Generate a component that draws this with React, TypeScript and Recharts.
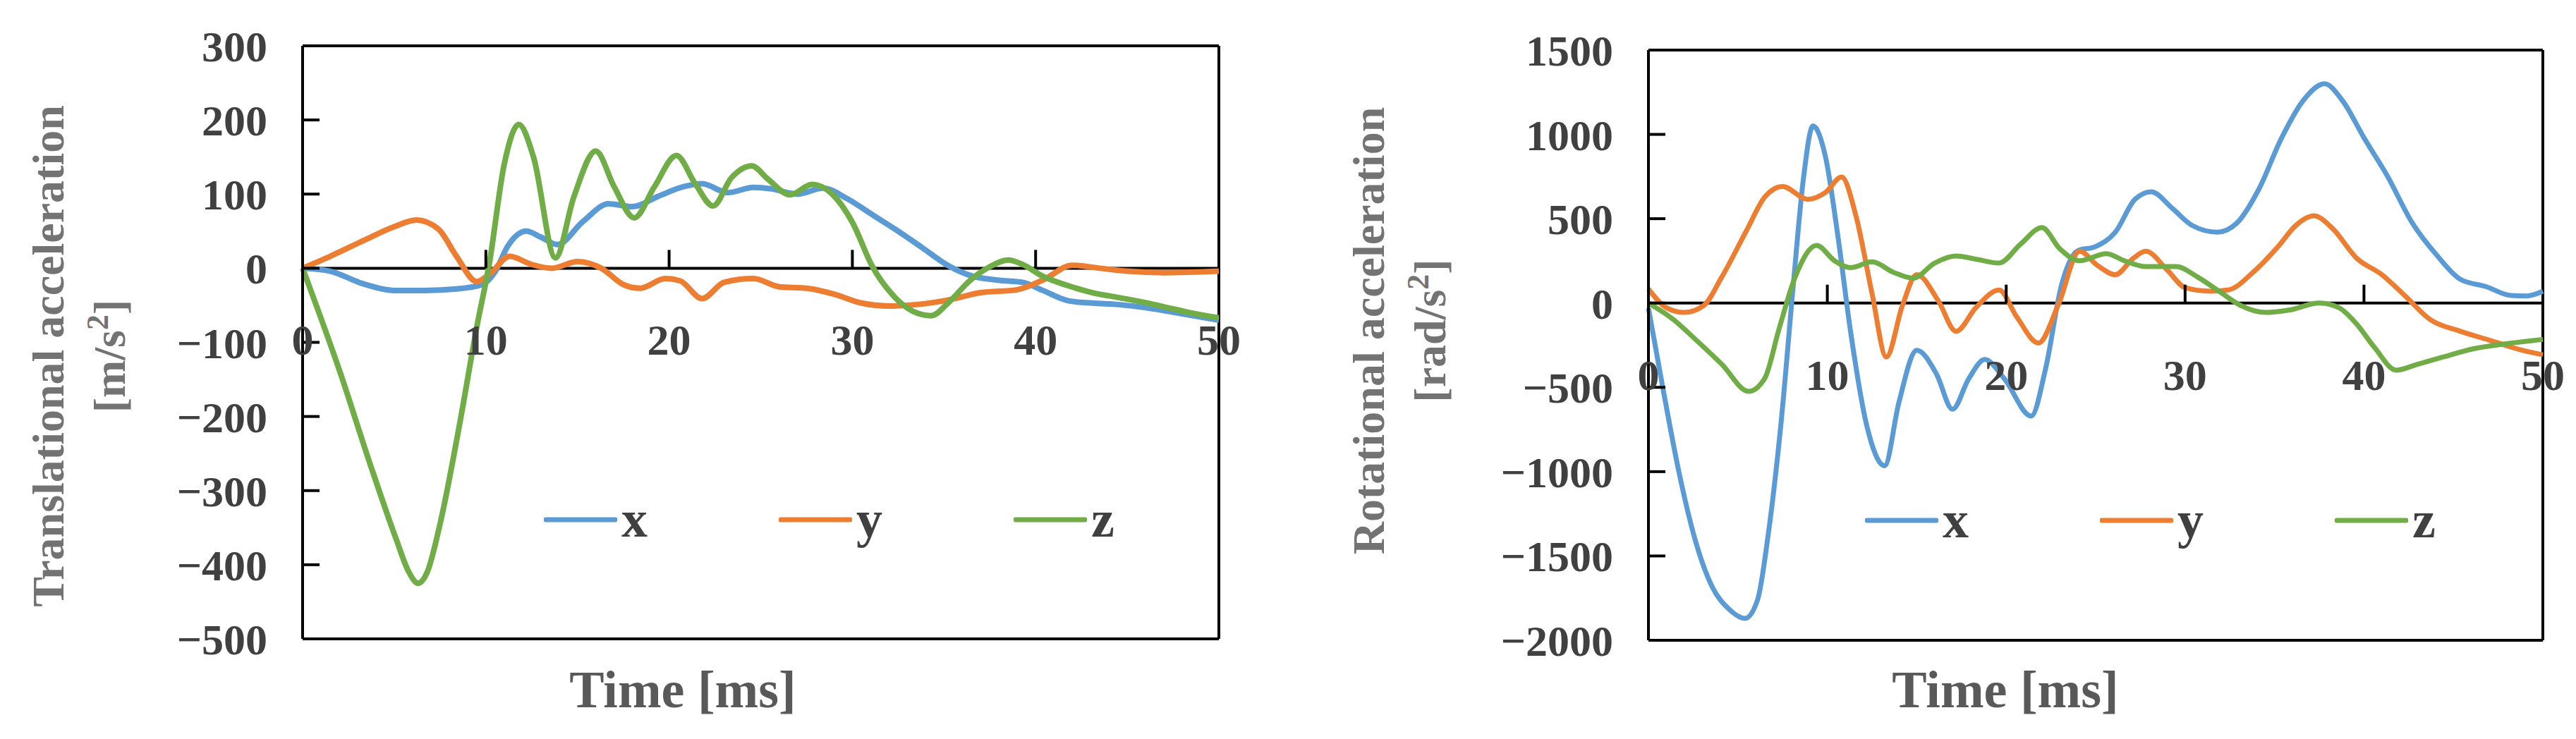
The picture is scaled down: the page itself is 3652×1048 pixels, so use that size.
import { Legend, Line, LineChart, ReferenceLine, XAxis, YAxis } from "recharts";

// time [ms] vs value
const transX: [number, number][] = [
  [0, 0], [1.5, -4], [3.3, -21], [5, -30], [6.7, -30], [8.4, -28], [9.8, -22], [10.5, -5],
  [11.2, 30], [12.2, 50], [13, 42], [13.9, 32], [15.3, 63], [16.7, 87], [18, 83], [19.4, 97],
  [20.8, 110], [21.8, 114], [23.2, 102], [24.6, 109], [25.6, 107], [27, 100], [28.4, 108],
  [29.7, 94], [31.1, 72], [32.5, 50], [33.8, 28], [35.2, 4], [36.6, -11], [37.9, -16],
  [39.3, -19], [40.4, -30], [41.8, -44], [43.1, -47], [44.5, -49], [46.2, -54], [47.9, -61], [50, -70],
];
const transY: [number, number][] = [
  [0, 0], [1.5, 16], [3.3, 37], [5, 56], [6.2, 65], [7.4, 53], [8.4, 16], [9.5, -18], [10.2, -8],
  [11.3, 16], [12.5, 5], [13.6, 0], [15, 9], [16.3, 0], [17.5, -22], [18.4, -27], [19.8, -14],
  [20.6, -17], [21.8, -41], [23, -19], [24.6, -14], [26, -25], [27.5, -27], [29, -35], [30.5, -47],
  [32, -51], [33.5, -49], [35.2, -43], [37, -33], [39, -29], [40.4, -16], [42, 4], [43.5, 0],
  [45, -4], [47, -6], [50, -4],
];
const transZ: [number, number][] = [
  [0, 0], [2, -137], [3.75, -269], [5.1, -365], [5.8, -410], [6.3, -425], [6.8, -410], [7.5, -345],
  [8.6, -206], [9.5, -80], [10.2, 8], [11, 140], [11.8, 194], [12.6, 150], [13.8, 14], [14.8, 96],
  [16, 158], [17, 110], [18.1, 68], [19.2, 110], [20.4, 152], [21.4, 115], [22.4, 84], [23.4, 122],
  [24.5, 138], [25.4, 120], [26.6, 99], [27.8, 113], [28.9, 100], [30, 62], [31.1, 2], [32.2, -36],
  [33.3, -58], [34.3, -64], [35.3, -45], [36.4, -17], [37.5, 2], [38.5, 11], [39.3, 5], [40.4, -11],
  [41.7, -23], [43.1, -33], [44.4, -39], [45.7, -45], [47, -52], [48.6, -61], [50, -67],
];

const rotX: [number, number][] = [
  [0, -30], [0.8, -500], [1.7, -1000], [2.6, -1400], [3.55, -1680], [4.5, -1815], [5.4, -1870],
  [6.1, -1760], [6.7, -1370], [7.4, -725], [8.1, 110], [8.65, 725], [9.2, 1050], [9.9, 865],
  [10.6, 390], [11.3, -170], [12.2, -725], [13.2, -965], [14, -590], [15, -280], [16.1, -420],
  [17, -630], [17.9, -450], [18.8, -335], [19.9, -450], [21.4, -670], [22.2, -390], [23.1, 110],
  [24, 310], [25, 335], [26.1, 420], [27.2, 615], [28.1, 660], [29.3, 560], [30.4, 460],
  [31.8, 420], [32.9, 475], [34.1, 670], [35.4, 980], [36.6, 1200], [37.8, 1300], [38.8, 1200],
  [40, 980], [41.3, 755], [42.7, 475], [44.1, 280], [45.4, 140], [46.8, 98], [48.2, 45],
  [49.1, 42], [50, 70],
];
const rotY: [number, number][] = [
  [0, 84], [1, -28], [2, -56], [3.1, -14], [4.1, 154], [5.5, 433], [6.5, 628], [7.5, 691],
  [8.9, 615], [9.9, 656], [10.8, 747], [11.6, 517], [12.5, 56], [13.3, -320], [14.2, -14],
  [15, 168], [16.2, 14], [17.2, -168], [18.3, -28], [19.6, 77], [20.6, -84], [21.8, -237],
  [22.9, -14], [24.1, 307], [25.1, 223], [26.1, 168], [27.1, 265], [27.8, 307], [29, 196],
  [30, 91], [31.4, 70], [32.4, 77], [33.8, 182], [35.2, 335], [36.2, 461], [37.2, 517],
  [38.2, 447], [39.6, 265], [41, 168], [42.3, 42], [43.7, -98], [45.4, -168], [47.1, -223],
  [48.8, -279], [50, -307],
];
const rotZ: [number, number][] = [
  [0, 0], [1.4, -98], [2.7, -223], [4.1, -363], [5.6, -524], [6.5, -447], [7.3, -154], [8.2, 154],
  [9.4, 342], [10.4, 251], [11.3, 210], [12.5, 244], [13.7, 182], [14.8, 147], [16, 237],
  [17.2, 279], [18.4, 258], [19.6, 237], [20.8, 349], [22, 447], [23, 321], [24.1, 251],
  [25.6, 293], [26.6, 251], [27.8, 216], [29.5, 216], [30.7, 154], [31.9, 70], [33.1, -14],
  [34.5, -56], [35.8, -42], [37.5, 0], [38.6, -28], [39.6, -126], [40.6, -265], [41.8, -398],
  [43, -363], [44.4, -321], [46.1, -272], [47.8, -244], [50, -216],
];

const timeTicks = [0, 10, 20, 30, 40, 50];
const transTicks = [-500, -400, -300, -200, -100, 0, 100, 200, 300];
const rotTicks = [-2000, -1500, -1000, -500, 0, 500, 1000, 1500];
const seriesNames = ["x", "y", "z"];
const colors = ["#5B9BD5", "#ED7D31", "#70AD47"];

const FONT = "'Liberation Serif', 'DejaVu Serif', serif";
const toRows = (pts: [number, number][]) => pts.map(([t, v]) => ({ t, v }));
const fmt = (v: number) => (v < 0 ? `\u2212${-v}` : `${v}`);

function ZeroTick(props: any) {
  const { x, y, payload, zeroOffset } = props;
  const zy = y - zeroOffset;
  const v = payload.value;
  const edge = v === timeTicks[0] || v === timeTicks[timeTicks.length - 1];
  return (
    <g>
      {!edge && <line x1={x} x2={x} y1={zy} y2={zy - 26} stroke="#000" strokeWidth={4} />}
      <text x={x} y={zy + 123} textAnchor="middle" fill="#404040" fontSize={62} fontWeight={700} fontFamily={FONT}>
        {v}
      </text>
    </g>
  );
}

function LegendRow(props: any) {
  const items = props.payload || [];
  return (
    <div style={{ display: "flex" }}>
      {items.map((it: any) => (
        <div key={it.value} style={{ width: 333, display: "flex", alignItems: "center" }}>
          <svg width={104} height={10}>
            <line x1={3} x2={101} y1={5} y2={5} stroke={it.color} strokeWidth={7} strokeLinecap="round" />
          </svg>
          <span style={{ marginLeft: 6, fontFamily: FONT, fontWeight: 700, fontSize: 74, color: "#404040", lineHeight: "85px" }}>
            {it.value}
          </span>
        </div>
      ))}
    </div>
  );
}

type PanelProps = {
  left: number;
  width: number;
  margin: { top: number; right: number; bottom: number; left: number };
  yTicks: number[];
  series: [number, number][][];
  strokeWidth: number;
  legendPos: { left: number; top: number };
};

function Panel({ left, width, margin, yTicks, series, strokeWidth, legendPos }: PanelProps) {
  const height = 1048;
  const xAxisH = 60;
  const yAxisW = 200;
  const yMin = yTicks[0];
  const yMax = yTicks[yTicks.length - 1];
  const plotH = height - margin.top - margin.bottom;
  const zeroOffset = (plotH * (0 - yMin)) / (yMax - yMin);
  return (
    <div style={{ position: "absolute", left, top: 0 }}>
      <LineChart
        width={width}
        height={height}
        margin={{ top: margin.top, right: margin.right, bottom: margin.bottom - xAxisH, left: margin.left - yAxisW }}
      >
        <XAxis
          dataKey="t"
          type="number"
          domain={[timeTicks[0], timeTicks[timeTicks.length - 1]]}
          ticks={timeTicks}
          interval={0}
          height={xAxisH}
          tickSize={0}
          tickMargin={0}
          tickLine={false}
          axisLine={{ stroke: "#000", strokeWidth: 4 }}
          tick={(p: any) => <ZeroTick {...p} zeroOffset={zeroOffset} />}
          allowDuplicatedCategory={false}
        />
        <YAxis
          type="number"
          domain={[yMin, yMax]}
          ticks={yTicks}
          interval={0}
          width={yAxisW}
          tickSize={-24}
          tickMargin={74}
          tickFormatter={fmt}
          tickLine={{ stroke: "#000", strokeWidth: 4 }}
          axisLine={{ stroke: "#000", strokeWidth: 4 }}
          tick={{ fill: "#404040", fontSize: 62, fontWeight: 700, fontFamily: FONT }}
        />
        <ReferenceLine y={yMax} stroke="#000" strokeWidth={4} />
        <ReferenceLine x={timeTicks[timeTicks.length - 1]} stroke="#000" strokeWidth={4} />
        <ReferenceLine y={0} stroke="#000" strokeWidth={4} />
        {series.map((pts, i) => (
          <Line
            key={seriesNames[i]}
            data={toRows(pts)}
            dataKey="v"
            name={seriesNames[i]}
            type="monotone"
            stroke={colors[i]}
            strokeWidth={strokeWidth}
            dot={false}
            activeDot={false}
            isAnimationActive={false}
          />
        ))}
        <Legend
          layout="horizontal"
          verticalAlign="middle"
          align="center"
          content={<LegendRow />}
          wrapperStyle={{ left: legendPos.left, top: legendPos.top, width: "auto" }}
        />
      </LineChart>
    </div>
  );
}

export default function App() {
  return (
    <div style={{ position: "absolute", left: 0, top: 0, width: 3652, height: 1048, background: "#fff", overflow: "hidden" }}>
      <Panel
        left={0}
        width={1826}
        margin={{ top: 65, right: 98, bottom: 142, left: 429 }}
        yTicks={transTicks}
        series={[transX, transY, transZ]}
        strokeWidth={8}
        legendPos={{ left: 771, top: 694 }}
      />
      <Panel
        left={1826}
        width={1826}
        margin={{ top: 71, right: 47, bottom: 140, left: 511 }}
        yTicks={rotTicks}
        series={[rotX, rotY, rotZ]}
        strokeWidth={7}
        legendPos={{ left: 818, top: 695 }}
      />
      <svg width={3652} height={1048} style={{ position: "absolute", left: 0, top: 0, pointerEvents: "none" }}>
        <g fontFamily={FONT} fontWeight={700} fontSize={64} fill="#737373" textAnchor="middle">
          <text transform="translate(90,505) rotate(-90)">Translational acceleration</text>
          <text transform="translate(177,505) rotate(-90)">
            [m/s<tspan dy={-24} fontSize={44}>2</tspan>
            <tspan dy={24}>]</tspan>
          </text>
          <text transform="translate(1962,469) rotate(-90)">Rotational acceleration</text>
          <text transform="translate(2049,469) rotate(-90)">
            [rad/s<tspan dy={-24} fontSize={44}>2</tspan>
            <tspan dy={24}>]</tspan>
          </text>
        </g>
        <g fontFamily={FONT} fontWeight={700} fontSize={74} fill="#595959" textAnchor="middle">
          <text x={968} y={1003}>Time [ms]</text>
          <text x={2843} y={1003}>Time [ms]</text>
        </g>
      </svg>
    </div>
  );
}
